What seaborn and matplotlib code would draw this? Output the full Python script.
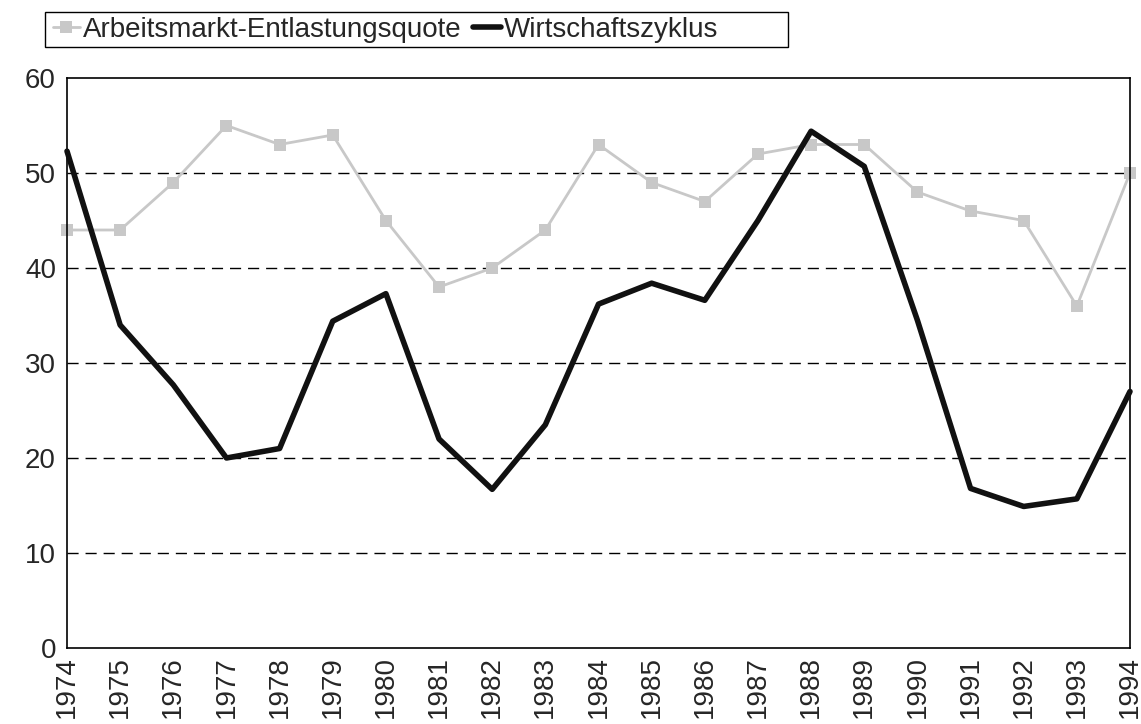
import matplotlib
matplotlib.use('Agg')

import pandas as pd
import matplotlib.pyplot as plt
import seaborn as sns
from matplotlib.patches import Rectangle

# data
years = list(range(1974, 1995))
entlastung = [44, 44, 49, 55, 53, 54, 45, 38, 40, 44, 53,
              49, 47, 52, 53, 53, 48, 46, 45, 36, 50]
zyklus = [52.3, 34.0, 27.7, 20.0, 21.0, 34.4, 37.3, 22.0, 16.7, 23.5, 36.2,
          38.4, 36.6, 45.0, 54.4, 50.7, 34.5, 16.8, 14.9, 15.7, 27.0]

df = pd.DataFrame({"Jahr": years,
                   "Arbeitsmarkt-Entlastungsquote": entlastung,
                   "Wirtschaftszyklus": zyklus})

sns.set_style("white")
plt.rcParams['font.family'] = ['Liberation Sans', 'DejaVu Sans']

fig = plt.figure(figsize=(11.41, 7.24), dpi=100)
ax = fig.add_axes([67/1141, 1 - 648/724, (1130 - 67)/1141, (648 - 78)/724])

# grid lines
for y in [10, 20, 30, 40, 50]:
    ax.axhline(y, color='black', linestyle=(0, (8, 5)), linewidth=1.0, zorder=0)

sns.lineplot(data=df, x="Jahr", y="Arbeitsmarkt-Entlastungsquote", ax=ax,
             color='#c8c8c8', linewidth=2, marker='s', markersize=9,
             markeredgewidth=0, label="Arbeitsmarkt-Entlastungsquote",
             clip_on=False, zorder=2)
sns.lineplot(data=df, x="Jahr", y="Wirtschaftszyklus", ax=ax,
             color='#111111', linewidth=4, label="Wirtschaftszyklus",
             clip_on=False, zorder=3)

ax.set_xlim(1974, 1994)
ax.set_ylim(0, 60)
ax.set_yticks(range(0, 61, 10))
ax.set_xticks(years)
ax.set_xticklabels([str(y) for y in years], rotation=90, fontsize=20)
ax.tick_params(axis='y', labelsize=20, length=0, pad=8)
ax.tick_params(axis='x', length=0, pad=6)
ax.set_xlabel("")
ax.set_ylabel("")
for s in ax.spines.values():
    s.set_color('black')
    s.set_linewidth(1.2)

# legend without frame, box drawn separately (wide right margin like the original)
handles, labels = ax.get_legend_handles_labels()
ax.get_legend().remove()
fig.legend(handles, labels, loc='upper left', ncol=2,
           bbox_to_anchor=(47/1141, 1 - 11/724), fontsize=20,
           frameon=False, handlelength=1.0, handletextpad=0.1,
           columnspacing=0.4, borderpad=0.2, borderaxespad=0)
fig.patches.append(Rectangle((45/1141, 1 - 47/724), (788 - 45)/1141, 35/724,
                             transform=fig.transFigure, fill=False,
                             edgecolor='black', linewidth=1.0))

fig.savefig("out.png", dpi=100)
